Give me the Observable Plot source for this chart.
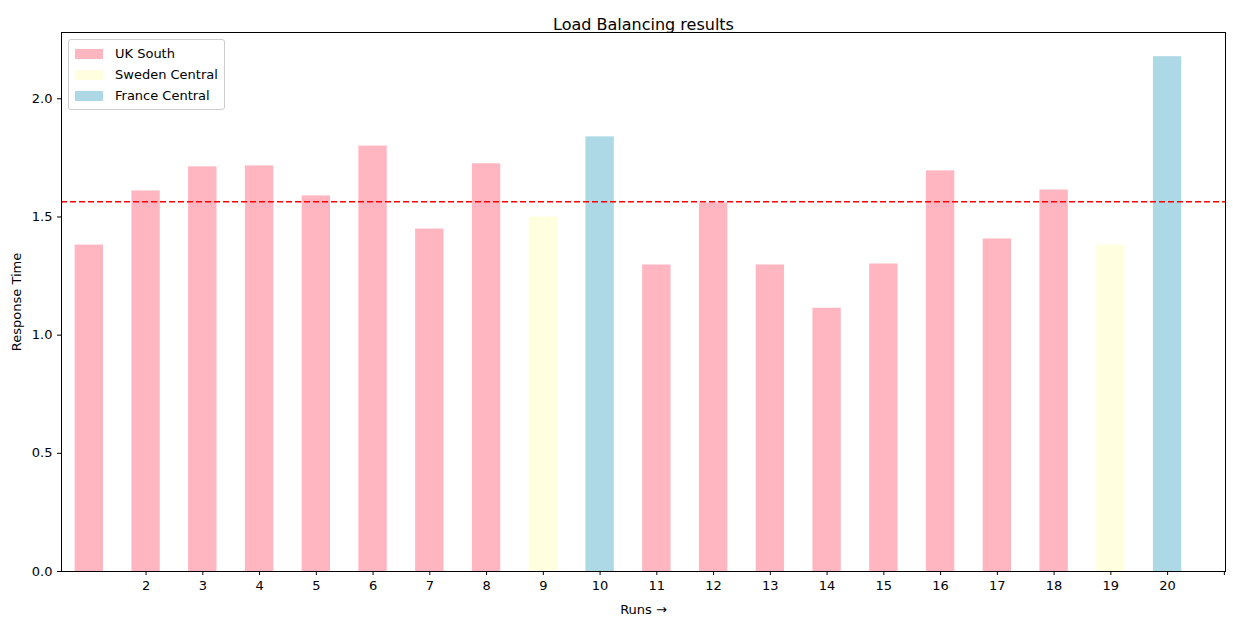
<!DOCTYPE html>
<html><head><meta charset="utf-8">
<script src="https://cdn.jsdelivr.net/npm/d3@7"></script>
<script src="https://cdn.jsdelivr.net/npm/@observablehq/plot@0.6"></script>
<style>
body{margin:0;background:#fff;font-family:"DejaVu Sans",sans-serif;}
#wrap{position:relative;width:1233px;height:624px;}
#legend{position:absolute;left:68px;top:39px;border:1px solid #ccc;border-radius:3px;background:rgba(255,255,255,0.8);padding:3px 6px;font-size:13px;}
#legend div{display:flex;align-items:center;height:21px;}
#legend span.sw{display:inline-block;width:28px;height:10px;margin-right:12px;}
</style></head><body>
<div id="wrap"><div id="legend"></div></div>
<script>
const runs = d3.range(1,21);
const times = [1.381,1.61,1.712,1.716,1.589,1.80,1.449,1.725,1.50,1.839,1.297,1.559,1.297,1.114,1.301,1.695,1.407,1.614,1.381,2.178];
const regions = ["UK South","UK South","UK South","UK South","UK South","UK South","UK South","UK South","Sweden Central","France Central","UK South","UK South","UK South","UK South","UK South","UK South","UK South","UK South","Sweden Central","France Central"];
const regionNames = ["UK South","Sweden Central","France Central"];
const regionColors = ["#ffb6c1","#ffffe0","#add8e6"];
const tickPositions = d3.range(1,21);
const tickLabels = ["2","3","4","5","6","7","8","9","10","11","12","13","14","15","16","17","18","19","20",""];
const meanTime = 1.564;

const data = runs.map((r,i)=>({i, run:r, time:times[i], region:regions[i]}));
const chart = Plot.plot({
  width:1233, height:624,
  marginLeft:61, marginRight:8, marginTop:32, marginBottom:53,
  style:{fontFamily:"DejaVu Sans", fontSize:"13px", color:"#000"},
  x:{domain:[-0.49,20.02], ticks:tickPositions, tickFormat:(d,k)=>tickLabels[k], tickSize:4, label:"Runs", labelAnchor:"center", labelOffset:42},
  y:{domain:[0,2.2805], ticks:[0,0.5,1,1.5,2], tickFormat:d3.format(".1f"), tickSize:4, label:"Response Time", labelAnchor:"center", labelOffset:50, labelArrow:"none"},
  color:{domain:regionNames, range:regionColors},
  marks:[
    Plot.rectY(data,{x1:d=>d.i-0.25, x2:d=>d.i+0.25, y1:0, y2:"time", fill:"region"}),
    Plot.ruleY([meanTime],{stroke:"red", strokeWidth:1.5, strokeDasharray:"6,3"}),
    Plot.frame({stroke:"#000"}),
    Plot.text(["Load Balancing results"],{frameAnchor:"top", dy:-14, fontSize:16})
  ]
});
chart.style.position="absolute"; chart.style.left="0"; chart.style.top="0";
const wrap=document.getElementById("wrap");
wrap.insertBefore(chart, wrap.firstChild);
const lg=document.getElementById("legend");
regionNames.forEach((n,k)=>{const d=document.createElement("div");d.innerHTML=`<span class="sw" style="background:${regionColors[k]}"></span>${n}`;lg.appendChild(d);});
</script></body></html>
